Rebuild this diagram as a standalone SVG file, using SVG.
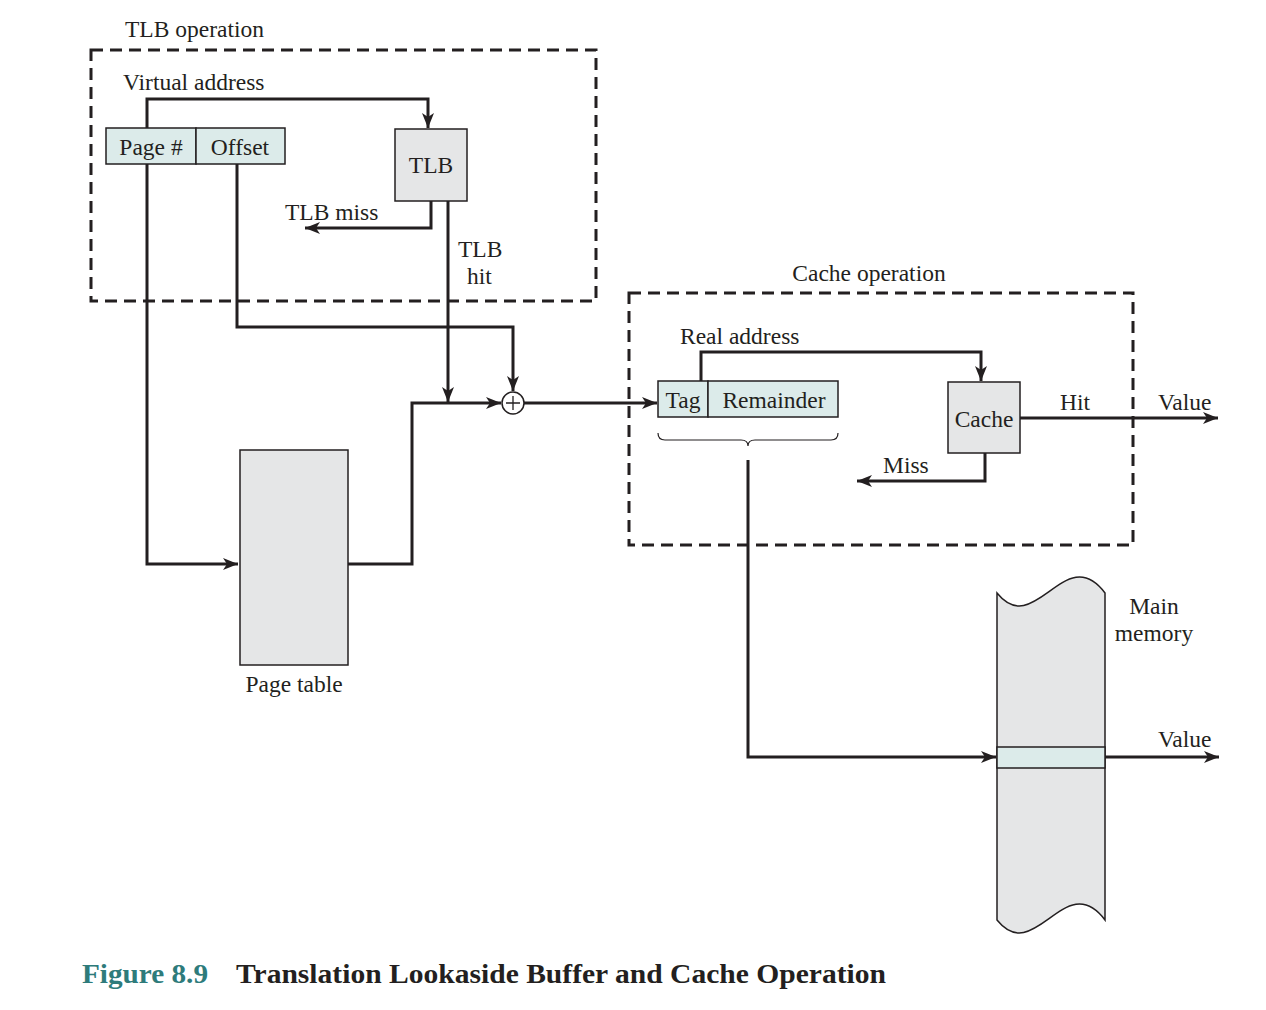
<svg xmlns="http://www.w3.org/2000/svg" width="1266" height="1010" viewBox="0 0 1266 1010">
<style>
text{font-family:"Liberation Serif","Times New Roman",serif;font-size:23.5px;fill:#231f20}
.c{text-anchor:middle}
.box{stroke:#231f20;stroke-width:1.5}
.cy{fill:#dcebea}
.gr{fill:#e5e6e7}
.dash{fill:none;stroke:#231f20;stroke-width:3;stroke-dasharray:12 7}
.ln{fill:none;stroke:#231f20;stroke-width:3}
.arr{marker-end:url(#ah)}
</style>
<defs>
<marker id="ah" markerUnits="userSpaceOnUse" markerWidth="18" markerHeight="14" viewBox="-1 -7 18 14" refX="15" refY="0" orient="auto">
<path d="M0,-6 L15,0 L0,6 L4,0 Z" fill="#231f20"/>
</marker>
</defs>
<rect width="1266" height="1010" fill="#fff"/>

<g id="tlb-operation">
<rect class="dash" x="91" y="50" width="505" height="251"/>
<text x="125" y="37">TLB operation</text>
</g>
<g id="cache-operation">
<rect class="dash" x="629" y="293" width="504" height="252"/>
<text class="c" x="869" y="281">Cache operation</text>
</g>

<g id="connectors">
<path class="ln arr" d="M147,128 V99 H428 V128"/>
<path class="ln arr" d="M431,201 V228 H305"/>
<path class="ln arr" d="M448,201 V402"/>
<path class="ln arr" d="M147,164 V564 H238"/>
<path class="ln arr" d="M237,164 V327 H513 V391"/>
<path class="ln arr" d="M348,564 H412 V403 H501"/>
<path class="ln arr" d="M524,403 H657"/>
<path class="ln arr" d="M701,381 V352 H981 V381"/>
<path class="ln arr" d="M1020,418 H1218"/>
<path class="ln arr" d="M985,453 V481 H857"/>
<path class="ln arr" d="M748,460 V757 H996"/>
<path class="ln arr" d="M1105,757 H1219"/>
<path d="M658,433 Q658,440 665,440 L741,440 Q748,440 748,446 Q748,440 755,440 L831,440 Q838,440 838,433" fill="none" stroke="#231f20" stroke-width="1.2"/>
</g>

<g id="virtual-address">
<text x="123" y="90">Virtual address</text>
<rect class="box cy" x="106" y="128" width="90" height="36"/>
<rect class="box cy" x="196" y="128" width="89" height="36"/>
<text class="c" x="151" y="155">Page #</text>
<text class="c" x="240" y="155">Offset</text>
</g>

<g id="tlb">
<rect class="box gr" x="395" y="129" width="72" height="72"/>
<text class="c" x="431" y="173">TLB</text>
</g>
<g id="tlb-labels">
<text x="285" y="220">TLB miss</text>
<text x="458" y="257">TLB</text>
<text x="467" y="284">hit</text>
</g>

<g id="page-table">
<rect class="box gr" x="240" y="450" width="108" height="215"/>
<text class="c" x="294" y="692">Page table</text>
</g>

<g id="adder">
<circle cx="513" cy="403" r="11" fill="#fff" stroke="#231f20" stroke-width="1.5"/>
<path d="M506,403 H520 M513,396 V410" stroke="#231f20" stroke-width="1.3"/>
</g>

<g id="real-address">
<text x="680" y="344">Real address</text>
<rect class="box cy" x="658" y="381" width="50" height="36"/>
<rect class="box cy" x="708" y="381" width="130" height="36"/>
<text class="c" x="683" y="408">Tag</text>
<text class="c" x="774" y="408">Remainder</text>
</g>

<g id="cache">
<rect class="box gr" x="948" y="382" width="72" height="71"/>
<text class="c" x="984" y="427">Cache</text>
</g>
<g id="cache-labels">
<text x="1060" y="410">Hit</text>
<text x="1158" y="410">Value</text>
<text x="883" y="473">Miss</text>
</g>

<g id="main-memory">
<path class="box gr" d="M997,593 C1035,640 1065,540 1105,593 V920 C1065,867 1035,967 997,920 Z"/>
<rect class="box cy" x="997" y="747" width="108" height="21"/>
<text class="c" x="1154" y="614">Main</text>
<text class="c" x="1154" y="641">memory</text>
<text x="1158" y="747">Value</text>
</g>

<g id="caption">
<text x="82" y="983" style="font-weight:bold;font-size:27px;fill:#2e7b7b" textLength="126" lengthAdjust="spacingAndGlyphs">Figure 8.9</text>
<text x="236" y="983" style="font-weight:bold;font-size:27px" textLength="650" lengthAdjust="spacingAndGlyphs">Translation Lookaside Buffer and Cache Operation</text>
</g>
</svg>
